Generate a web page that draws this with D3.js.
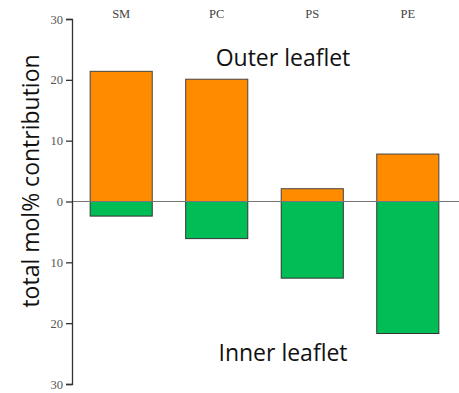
<!DOCTYPE html>
<html>
<head>
<meta charset="utf-8">
<script src="https://d3js.org/d3.v7.min.js"></script>
<style>
  body { margin: 0; background: #fff; }
  .tick text { font-family: "Liberation Serif", "DejaVu Serif", serif; fill: #555; font-size: 12.5px; }
  .cat { font-family: "Liberation Serif", serif; fill: #444; font-size: 12.5px; }
  .lbl { font-family: "Open Sans", "Noto Sans", sans-serif; fill: #111; }
</style>
</head>
<body>
<div id="chart"></div>
<script>
// lipid classes and the two leaflet contributions (total mol%)
const categories = ["SM", "PC", "PS", "PE"];
const outer = [21.4, 20.1, 2.1, 7.8];
const inner = [2.4, 6.1, 12.6, 21.7];
const yTicks = [30, 20, 10, 0, -10, -20, -30];

const w = 459, h = 393;

const svg = d3.select("#chart").append("svg")
  .attr("width", w)
  .attr("height", h);

const y = d3.scaleLinear().domain([30, -30]).range([19, 384]);
const x = d3.scaleBand().domain(categories).range([72, 457])
  .paddingInner(0.35).paddingOuter(0.19);

// outer leaflet bars go up, inner go down
svg.append("g").selectAll("rect.outer")
  .data(categories)
  .enter().append("rect")
  .attr("x", d => x(d))
  .attr("y", (d, i) => y(outer[i]))
  .attr("width", x.bandwidth())
  .attr("height", (d, i) => y(0) - y(outer[i]))
  .attr("fill", "#ff8c00")
  .attr("stroke", "#444")
  .attr("stroke-width", 1);

svg.append("g").selectAll("rect.inner")
  .data(categories)
  .enter().append("rect")
  .attr("x", d => x(d))
  .attr("y", y(0))
  .attr("width", x.bandwidth())
  .attr("height", (d, i) => y(-inner[i]) - y(0))
  .attr("fill", "#00be55")
  .attr("stroke", "#333")
  .attr("stroke-width", 1);

// zero line
svg.append("line")
  .attr("x1", 72).attr("x2", w)
  .attr("y1", y(0)).attr("y2", y(0))
  .attr("stroke", "#777").attr("stroke-width", 1.2);

// y axis, labels shown without sign
const yAxis = d3.axisLeft(y).tickValues(yTicks)
  .tickFormat(d => Math.abs(d)).tickSizeOuter(0).tickSize(6);
const ga = svg.append("g")
  .attr("transform", "translate(72,0)")
  .call(yAxis);
ga.select(".domain").attr("stroke", "#333").attr("stroke-width", 1.3);
ga.selectAll(".tick line").attr("stroke", "#333").attr("stroke-width", 1.3);

// category labels along the top
svg.append("g").selectAll("text")
  .data(categories)
  .enter().append("text")
  .attr("class", "cat")
  .attr("x", d => x(d) + x.bandwidth() / 2)
  .attr("y", 18)
  .attr("text-anchor", "middle")
  .text(d => d);

svg.append("text")
  .attr("class", "lbl")
  .attr("transform", "translate(39,181) rotate(-90)")
  .attr("text-anchor", "middle")
  .attr("font-size", 23)
  .text("total mol% contribution");

svg.append("text")
  .attr("class", "lbl")
  .attr("x", 283).attr("y", 66)
  .attr("text-anchor", "middle")
  .attr("font-size", 23)
  .text("Outer leaflet");

svg.append("text")
  .attr("class", "lbl")
  .attr("x", 283).attr("y", 361)
  .attr("text-anchor", "middle")
  .attr("font-size", 23)
  .text("Inner leaflet");
</script>
</body>
</html>
